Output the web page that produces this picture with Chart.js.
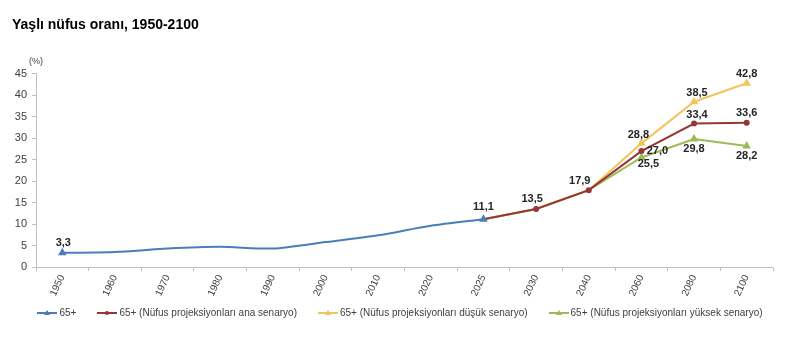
<!DOCTYPE html>
<html>
<head>
<meta charset="utf-8">
<style>
  html, body { margin: 0; padding: 0; background: #fff; }
  #wrap { position: relative; width: 800px; height: 341px; }
  #legend {
    position: absolute; left: 0; top: 307px; width: 800px;
    display: flex; justify-content: center; gap: 21px;
    font: 10px "Liberation Sans", Arial, sans-serif; color: #404040;
  }
  #legend .item { display: flex; align-items: center; white-space: nowrap; }
  #legend svg { margin-right: 2px; }
</style>
<script src="https://cdn.jsdelivr.net/npm/chart.js"></script>
</head>
<body>
<div id="wrap"><canvas id="chart"></canvas><div id="legend"></div></div>
<script>
// --- Data ---
const years = ['1950', '1960', '1970', '1980', '1990', '2000', '2010', '2020', '2025', '2030', '2040', '2060', '2080', '2100'];
const observed = [3.3, 3.5, 4.3, 4.7, 4.3, 5.8, 7.4, 9.6, 11.1, null, null, null, null, null];
const mainScenario = [null, null, null, null, null, null, null, null, 11.1, 13.5, 17.9, 27.0, 33.4, 33.6];
const lowScenario = [null, null, null, null, null, null, null, null, 11.1, 13.5, 17.9, 28.8, 38.5, 42.8];
const highScenario = [null, null, null, null, null, null, null, null, 11.1, 13.5, 17.9, 25.5, 29.8, 28.2];
const yTicks = [0, 5, 10, 15, 20, 25, 30, 35, 40, 45];

// which points get a value label, and where (dx, dy from the point)
const labelOffsets = [
    { 0: [1, -10], 8: [0, -12] },
    { 9: [-4, -10], 10: [-9, -9], 11: [16, 0], 12: [3, -9], 13: [0, -10] },
    { 11: [-3, -8], 12: [3, -9], 13: [0, -9] },
    { 11: [7, 6], 12: [0, 10], 13: [0, 10] }
];
// marker only on labelled points
const markerRadius = (ds, r) => ctx => (labelOffsets[ds][ctx.dataIndex] ? r : 0);

const fmt = v => v.toFixed(1).replace('.', ',');

const valueLabels = {
    id: 'valueLabels',
    afterDatasetsDraw(chart) {
        const ctx = chart.ctx;
        ctx.save();
        ctx.font = 'bold 11px "Liberation Sans", Arial, sans-serif';
        ctx.fillStyle = '#262626';
        ctx.textAlign = 'center';
        ctx.textBaseline = 'middle';
        chart.data.datasets.forEach((ds, i) => {
            const meta = chart.getDatasetMeta(i);
            Object.keys(labelOffsets[i]).forEach(k => {
                const idx = +k;
                const pt = meta.data[idx];
                if (!pt || ds.data[idx] == null) return;
                const [dx, dy] = labelOffsets[i][k];
                ctx.fillText(fmt(ds.data[idx]), pt.x + dx, pt.y + dy);
            });
        });
        // unit label over the y axis
        ctx.font = '9px "Liberation Sans", Arial, sans-serif';
        ctx.fillStyle = '#404040';
        ctx.fillText('(%)', chart.chartArea.left, chart.chartArea.top - 12);
        ctx.restore();
    }
};

const axisColor = '#bfbfbf';
const tickFont = { family: '"Liberation Sans", Arial, sans-serif', size: 11 };

const chart = new Chart(document.getElementById('chart'), {
    type: 'line',
    data: {
        labels: years,
        datasets: [
            {
                label: '65+',
                data: observed,
                borderColor: '#4a7ebb',
                backgroundColor: '#4a7ebb',
                borderWidth: 2,
                tension: 0.25,
                pointStyle: 'triangle',
                pointRadius: markerRadius(0, 3)
            },
            {
                label: '65+ (Nüfus projeksiyonları ana senaryo)',
                data: mainScenario,
                borderColor: '#953735',
                backgroundColor: '#953735',
                borderWidth: 2,
                pointStyle: 'circle',
                pointRadius: markerRadius(1, 2)
            },
            {
                label: '65+ (Nüfus projeksiyonları düşük senaryo)',
                data: lowScenario,
                borderColor: '#f2c55c',
                backgroundColor: '#f2c55c',
                borderWidth: 2,
                pointStyle: 'triangle',
                pointRadius: markerRadius(2, 3)
            },
            {
                label: '65+ (Nüfus projeksiyonları yüksek senaryo)',
                data: highScenario,
                borderColor: '#9bbb59',
                backgroundColor: '#9bbb59',
                borderWidth: 2,
                pointStyle: 'triangle',
                pointRadius: markerRadius(3, 3)
            }
        ]
    },
    options: {
        responsive: true,
        maintainAspectRatio: false,
        animation: false,
        layout: { padding: { left: 12, right: 27, top: 0, bottom: 0 } },
        plugins: {
            title: {
                display: true,
                text: 'Yaşlı nüfus oranı, 1950-2100',
                align: 'start',
                color: '#000',
                font: { family: '"Liberation Sans", Arial, sans-serif', size: 14, weight: 'bold' },
                padding: { top: 17, bottom: 40 }
            },
            legend: { display: false },
            tooltip: { enabled: false }
        },
        scales: {
            x: {
                offset: true,
                grid: { offset: true, drawOnChartArea: false, tickLength: 4, color: axisColor },
                border: { color: axisColor },
                ticks: {
                    minRotation: 65,
                    maxRotation: 65,
                    padding: 2,
                    color: '#404040',
                    font: { family: '"Liberation Sans", Arial, sans-serif', size: 10 }
                },
                afterFit: s => { s.height = 74; }
            },
            y: {
                min: 0,
                max: 45,
                afterBuildTicks: s => { s.ticks = yTicks.map(v => ({ value: v })); },
                grid: { drawOnChartArea: false, tickLength: 4, color: axisColor },
                border: { color: axisColor },
                ticks: { padding: 5, color: '#404040', font: tickFont },
                afterFit: s => { s.width = 24; }
            }
        }
    },
    plugins: [valueLabels]
});

// HTML legend built from the datasets: short line with the series marker
const legendEl = document.getElementById('legend');
chart.data.datasets.forEach(ds => {
    const c = ds.borderColor;
    const marker = ds.pointStyle === 'circle'
        ? `<circle cx="10" cy="4" r="2" fill="${c}"/>`
        : `<polygon points="10,1 13,6 7,6" fill="${c}"/>`;
    const item = document.createElement('span');
    item.className = 'item';
    item.innerHTML = `<svg width="20" height="8"><line x1="0" y1="4" x2="20" y2="4" stroke="${c}" stroke-width="2"/>${marker}</svg>`;
    item.appendChild(document.createTextNode(ds.label));
    legendEl.appendChild(item);
});
</script>
</body>
</html>
